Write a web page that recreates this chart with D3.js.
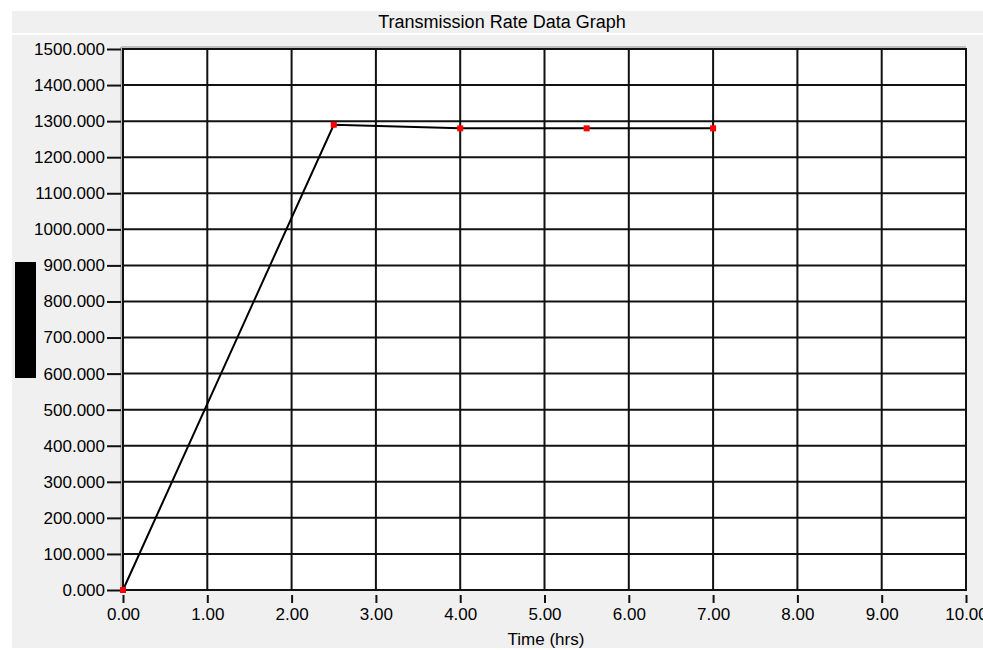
<!DOCTYPE html>
<html>
<head>
<meta charset="utf-8">
<script src="https://cdn.jsdelivr.net/npm/d3@7"></script>
<style>
  body { margin: 0; background: #fff; }
  text { font-family: "Liberation Sans", Arial, sans-serif; fill: #000; }
</style>
</head>
<body>
<div id="chart"></div>
<script>
// data
const times = [0, 2.5, 4, 5.5, 7];
const rates = [0, 1290, 1280, 1280, 1280];
const xTicks = [0, 1, 2, 3, 4, 5, 6, 7, 8, 9, 10];
const yTicks = [0, 100, 200, 300, 400, 500, 600, 700, 800, 900, 1000, 1100, 1200, 1300, 1400, 1500];
const chartTitle = "Transmission Rate Data Graph";
const xLabel = "Time (hrs)";

const width = 983, height = 650;
const margin = {top: 49, right: 17, bottom: 60, left: 123};

const svg = d3.select("#chart").append("svg")
    .attr("width", width)
    .attr("height", height);

// panel backgrounds
svg.append("rect")
    .attr("x", 12).attr("y", 11)
    .attr("width", width - 12).attr("height", 22)
    .attr("fill", "#f0f0f0");
svg.append("rect")
    .attr("x", 12).attr("y", 35)
    .attr("width", width - 12).attr("height", 613)
    .attr("fill", "#f0f0f0");

svg.append("text")
    .attr("x", 502).attr("y", 28)
    .attr("text-anchor", "middle")
    .style("font-size", "18px")
    .text(chartTitle);

let x = d3.scaleLinear()
    .domain([0, 10])
    .range([margin.left, width - margin.right]);

let y = d3.scaleLinear()
    .domain([0, 1500])
    .range([height - margin.bottom, margin.top]);

// plot area
svg.append("rect")
    .attr("x", x(0)).attr("y", y(1500))
    .attr("width", x(10) - x(0)).attr("height", y(0) - y(1500))
    .attr("fill", "#fff");

// light shadow on the left and top edges
svg.append("line")
    .attr("x1", x(0) - 2).attr("x2", x(0) - 2)
    .attr("y1", y(1500) - 2).attr("y2", y(0))
    .attr("stroke", "#b0b0b0").attr("stroke-width", 1.5);
svg.append("line")
    .attr("x1", x(0) - 2).attr("x2", x(10))
    .attr("y1", y(1500) - 2).attr("y2", y(1500) - 2)
    .attr("stroke", "#b0b0b0").attr("stroke-width", 1.5);

// grid
svg.append("g").selectAll("line")
    .data(yTicks)
    .join("line")
    .attr("x1", x(0)).attr("x2", x(10))
    .attr("y1", d => y(d)).attr("y2", d => y(d))
    .attr("stroke", "#111").attr("stroke-width", 2);

svg.append("g").selectAll("line")
    .data(xTicks)
    .join("line")
    .attr("x1", d => x(d)).attr("x2", d => x(d))
    .attr("y1", y(1500) - 1).attr("y2", y(0) + 1)
    .attr("stroke", "#111").attr("stroke-width", 2);

// y axis
let yAxis = d3.axisLeft(y)
    .tickValues(yTicks)
    .tickFormat(d3.format(".3f"))
    .tickSize(14)
    .tickPadding(2);

let yG = svg.append("g")
    .attr("transform", `translate(${x(0) - 2},0)`)
    .call(yAxis);
yG.select(".domain").remove();
yG.selectAll(".tick line").attr("stroke", "#111").attr("stroke-width", 2);
yG.selectAll(".tick text")
    .style("font-size", "17px")
    .attr("fill", "#000");

// x axis
let xAxis = d3.axisBottom(x)
    .tickValues(xTicks)
    .tickFormat(d3.format(".2f"))
    .tickSize(8)
    .tickPadding(5);

let xG = svg.append("g")
    .attr("transform", `translate(0,${y(0) + 5})`)
    .call(xAxis);
xG.select(".domain").remove();
xG.selectAll(".tick line").attr("stroke", "#111").attr("stroke-width", 2);
xG.selectAll(".tick text")
    .style("font-size", "17px")
    .attr("fill", "#000");

svg.append("text")
    .attr("x", 546).attr("y", 645)
    .attr("text-anchor", "middle")
    .style("font-size", "17px")
    .text(xLabel);

// redacted y label box
svg.append("rect")
    .attr("x", 15).attr("y", 262)
    .attr("width", 21).attr("height", 116)
    .attr("fill", "#000");

// series
let points = times.map((t, i) => [t, rates[i]]);

svg.append("path")
    .datum(points)
    .attr("fill", "none")
    .attr("stroke", "#000")
    .attr("stroke-width", 2)
    .attr("d", d3.line().x(d => x(d[0])).y(d => y(d[1])));

svg.append("g").selectAll("rect")
    .data(points)
    .join("rect")
    .attr("x", d => x(d[0]) - 3)
    .attr("y", d => y(d[1]) - 3)
    .attr("width", 6)
    .attr("height", 6)
    .attr("fill", "#ff0000");
</script>
</body>
</html>
